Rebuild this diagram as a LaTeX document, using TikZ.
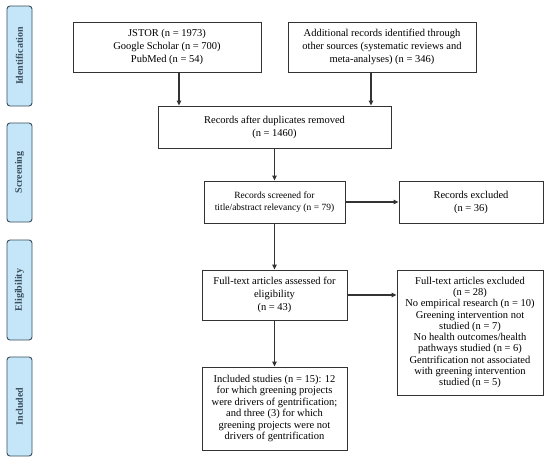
\documentclass[tikz,border=0pt]{standalone}
\usepackage{fontspec}
\setmainfont{Liberation Serif}
\usetikzlibrary{arrows.meta}
\definecolor{sidefill}{HTML}{C5E6F8}
\definecolor{sideline}{HTML}{3A4E5C}
\definecolor{linegrey}{HTML}{333333}
\begin{document}
\begin{tikzpicture}[x=1pt,y=1pt,
  box/.style={draw=linegrey, line width=0.9pt, align=center, inner sep=2pt,
    font=\fontsize{10.5}{13}\selectfont, text=black},
  side/.style={draw=sideline, fill=sidefill, line width=0.9pt, rounded corners=3pt,
    minimum width=25pt, font=\fontsize{10}{11}\selectfont\bfseries, text=sideline},
  arr/.style={draw=linegrey, line width=1.1pt, -{Triangle[length=5pt,width=4.5pt]}}]
\useasboundingbox (0,0) rectangle (550,-464);
\fill[white] (0,0) rectangle (550,-464);
% side labels
\node[side, minimum height=100pt] (sid) at (19.5,-56) {\rotatebox{90}{Identification}};
\node[side, minimum height=99pt] (sscr) at (19.5,-172.5) {\rotatebox{90}{Screening}};
\node[side, minimum height=100pt] (selig) at (19.5,-290) {\rotatebox{90}{Eligibility}};
\node[side, minimum height=99pt] (sinc) at (19.5,-406.5) {\rotatebox{90}{Included}};
% boxes
\node[box, minimum width=188pt, minimum height=50pt] (b1) at (167,-47)
  {JSTOR (n = 1973)\\Google Scholar (n = 700)\\PubMed (n = 54)};
\node[box, minimum width=188pt, minimum height=50pt] (b2) at (382,-47)
  {Additional records identified through\\other sources (systematic reviews and\\meta-analyses) (n = 346)};
\node[box, minimum width=233pt, minimum height=42pt] (b3) at (274.5,-127)
  {Records after duplicates removed\\(n = 1460)};
\node[box, minimum width=141pt, minimum height=42pt, font=\fontsize{9.5}{12}\selectfont] (b4) at (274.5,-202)
  {Records screened for\\title/abstract relevancy (n = 79)};
\node[box, minimum width=144pt, minimum height=42pt] (b5) at (471,-202)
  {Records excluded\\(n = 36)};
\node[box, minimum width=145pt, minimum height=50pt] (b6) at (274.5,-295)
  {Full-text articles assessed for\\eligibility\\(n = 43)};
\node[box, minimum width=146pt, minimum height=125pt, font=\fontsize{10.5}{11.3}\selectfont] (b7) at (470,-332.5)
  {Full-text articles excluded\\(n = 28)\\No empirical research (n = 10)\\Greening intervention not\\studied (n = 7)\\No health outcomes/health\\pathways studied (n = 6)\\Gentrification not associated\\with greening intervention\\studied (n = 5)};
\node[box, minimum width=145pt, minimum height=83pt, font=\fontsize{10.5}{11.4}\selectfont] (b8) at (274.5,-408.5)
  {Included studies (n = 15): 12\\for which greening projects\\were drivers of gentrification;\\and three (3) for which\\greening projects were not\\drivers of gentrification};
% arrows
\draw[arr] (b1.south -| 179,0) -- (b3.north -| 179,0);
\draw[arr] (b2.south -| 371,0) -- (b3.north -| 371,0);
\draw[arr] (b3.south) -- (b4.north);
\draw[arr] (b4.east) -- (b5.west);
\draw[arr] (b4.south) -- (b6.north);
\draw[arr] (b6.east) -- (b6.east -| b7.west);
\draw[arr] (b6.south) -- (b8.north);
\end{tikzpicture}
\end{document}
